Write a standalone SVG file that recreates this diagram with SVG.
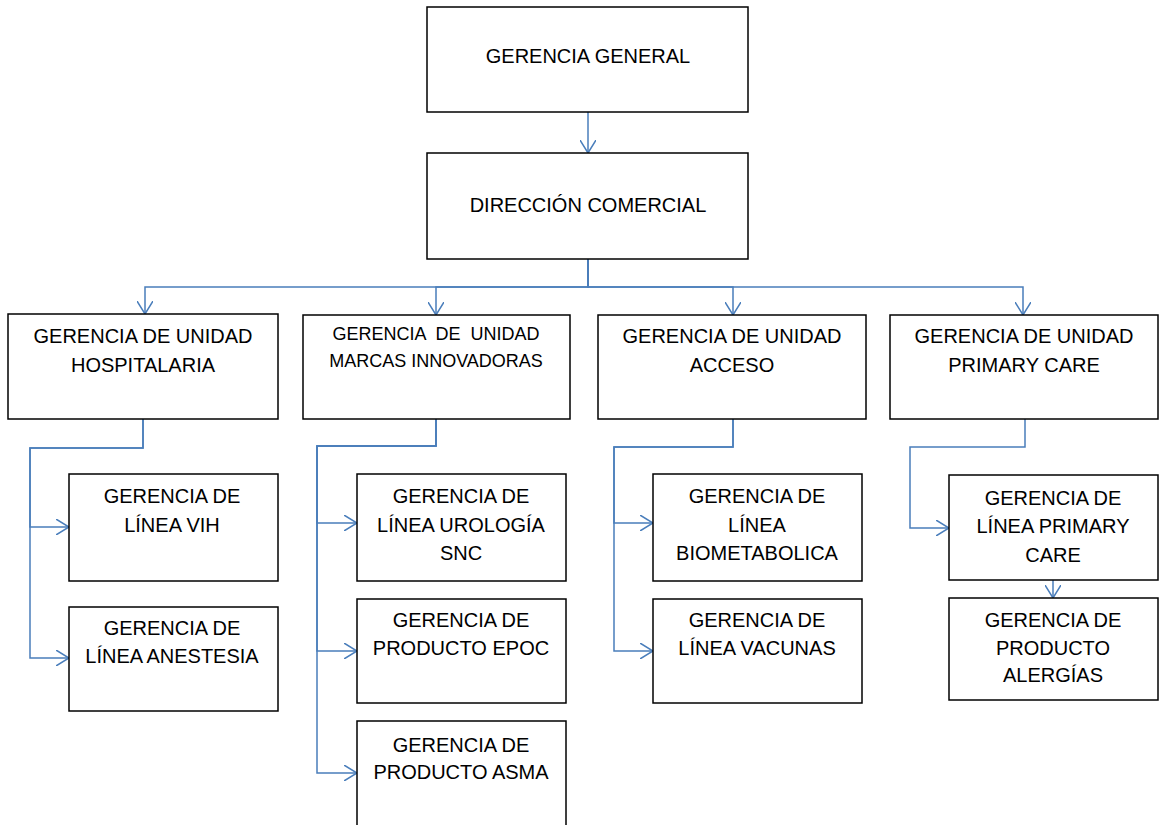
<svg xmlns="http://www.w3.org/2000/svg" width="1160" height="825" viewBox="0 0 1160 825">
  <style>
    .box { fill: #ffffff; stroke: #000000; stroke-width: 1.5; }
    .lbl { font-family: "Liberation Sans", Arial, sans-serif; font-size: 20px; fill: #000000; text-anchor: middle; white-space: pre; }
    .sm { font-size: 18px; }
    .conn { fill: none; stroke: #4a7ebb; stroke-width: 1.5; marker-end: url(#arrow); }
  </style>
  <defs>
    <marker id="arrow" viewBox="0 0 14 16" refX="13" refY="8" markerWidth="14" markerHeight="16" markerUnits="userSpaceOnUse" orient="auto">
      <path d="M0,0 L13,8 L0,16" fill="none" stroke="#4a7ebb" stroke-width="1.5"/>
    </marker>
  </defs>
  <rect width="1160" height="825" fill="#ffffff"/>

  <!-- connectors -->
  <g id="connectors">
    <path class="conn" d="M588,112 L588,153"/>
    <path class="conn" d="M588,259 L588,287 L145,287 L145,314"/>
    <path class="conn" d="M588,259 L588,287 L436,287 L436,315"/>
    <path class="conn" d="M588,259 L588,287 L733,287 L733,315"/>
    <path class="conn" d="M588,259 L588,287 L1023,287 L1023,315"/>

    <path class="conn" d="M143,419 L143,448 L30,448 L30,527 L69,527"/>
    <path class="conn" d="M143,419 L143,448 L30,448 L30,658 L69,658"/>

    <path class="conn" d="M436,419 L436,446 L317,446 L317,523 L357,523"/>
    <path class="conn" d="M436,419 L436,446 L317,446 L317,651 L357,651"/>
    <path class="conn" d="M436,419 L436,446 L317,446 L317,773 L357,773"/>

    <path class="conn" d="M733,419 L733,447 L614,447 L614,523 L653,523"/>
    <path class="conn" d="M733,419 L733,447 L614,447 L614,651 L653,651"/>

    <path class="conn" d="M1025,419 L1025,447 L910,447 L910,528 L949,528"/>
    <path class="conn" d="M1053,580 L1053,598"/>
  </g>

  <!-- top level -->
  <g id="gerencia-general">
    <rect class="box" x="427" y="7" width="321" height="105"/>
    <text class="lbl" x="588" y="63">GERENCIA GENERAL</text>
  </g>
  <g id="direccion-comercial">
    <rect class="box" x="427" y="153" width="321" height="106"/>
    <text class="lbl" x="588" y="212">DIRECCIÓN COMERCIAL</text>
  </g>

  <!-- business units -->
  <g id="unidad-hospitalaria">
    <rect class="box" x="8" y="314" width="270" height="105"/>
    <text class="lbl" x="143" y="343">GERENCIA DE UNIDAD</text>
    <text class="lbl" x="143" y="372">HOSPITALARIA</text>
  </g>
  <g id="unidad-marcas">
    <rect class="box" x="303" y="315" width="267" height="104"/>
    <text class="lbl sm" x="436" y="340">GERENCIA  DE  UNIDAD</text>
    <text class="lbl sm" x="436" y="367">MARCAS INNOVADORAS</text>
  </g>
  <g id="unidad-acceso">
    <rect class="box" x="598" y="315" width="268" height="104"/>
    <text class="lbl" x="732" y="343">GERENCIA DE UNIDAD</text>
    <text class="lbl" x="732" y="372">ACCESO</text>
  </g>
  <g id="unidad-primary-care">
    <rect class="box" x="890" y="315" width="268" height="104"/>
    <text class="lbl" x="1024" y="343">GERENCIA DE UNIDAD</text>
    <text class="lbl" x="1024" y="372">PRIMARY CARE</text>
  </g>

  <!-- lines and products -->
  <g id="linea-vih">
    <rect class="box" x="69" y="474" width="209" height="107"/>
    <text class="lbl" x="172" y="503">GERENCIA DE</text>
    <text class="lbl" x="172" y="532">LÍNEA VIH</text>
  </g>
  <g id="linea-anestesia">
    <rect class="box" x="69" y="607" width="209" height="104"/>
    <text class="lbl" x="172" y="635">GERENCIA DE</text>
    <text class="lbl" x="172" y="663">LÍNEA ANESTESIA</text>
  </g>

  <g id="linea-urologia">
    <rect class="box" x="357" y="474" width="209" height="107"/>
    <text class="lbl" x="461" y="503">GERENCIA DE</text>
    <text class="lbl" x="461" y="532">LÍNEA UROLOGÍA</text>
    <text class="lbl" x="461" y="560">SNC</text>
  </g>
  <g id="producto-epoc">
    <rect class="box" x="357" y="599" width="209" height="104"/>
    <text class="lbl" x="461" y="627">GERENCIA DE</text>
    <text class="lbl" x="461" y="655">PRODUCTO EPOC</text>
  </g>
  <g id="producto-asma">
    <rect class="box" x="357" y="721" width="209" height="110"/>
    <text class="lbl" x="461" y="752">GERENCIA DE</text>
    <text class="lbl" x="461" y="779">PRODUCTO ASMA</text>
  </g>

  <g id="linea-biometabolica">
    <rect class="box" x="653" y="474" width="209" height="107"/>
    <text class="lbl" x="757" y="503">GERENCIA DE</text>
    <text class="lbl" x="757" y="532">LÍNEA</text>
    <text class="lbl" x="757" y="560">BIOMETABOLICA</text>
  </g>
  <g id="linea-vacunas">
    <rect class="box" x="653" y="599" width="209" height="104"/>
    <text class="lbl" x="757" y="627">GERENCIA DE</text>
    <text class="lbl" x="757" y="655">LÍNEA VACUNAS</text>
  </g>

  <g id="linea-primary-care">
    <rect class="box" x="949" y="475" width="209" height="105"/>
    <text class="lbl" x="1053" y="505">GERENCIA DE</text>
    <text class="lbl" x="1053" y="533">LÍNEA PRIMARY</text>
    <text class="lbl" x="1053" y="562">CARE</text>
  </g>
  <g id="producto-alergias">
    <rect class="box" x="949" y="598" width="209" height="102"/>
    <text class="lbl" x="1053" y="627">GERENCIA DE</text>
    <text class="lbl" x="1053" y="655">PRODUCTO</text>
    <text class="lbl" x="1053" y="682">ALERGÍAS</text>
  </g>
</svg>
